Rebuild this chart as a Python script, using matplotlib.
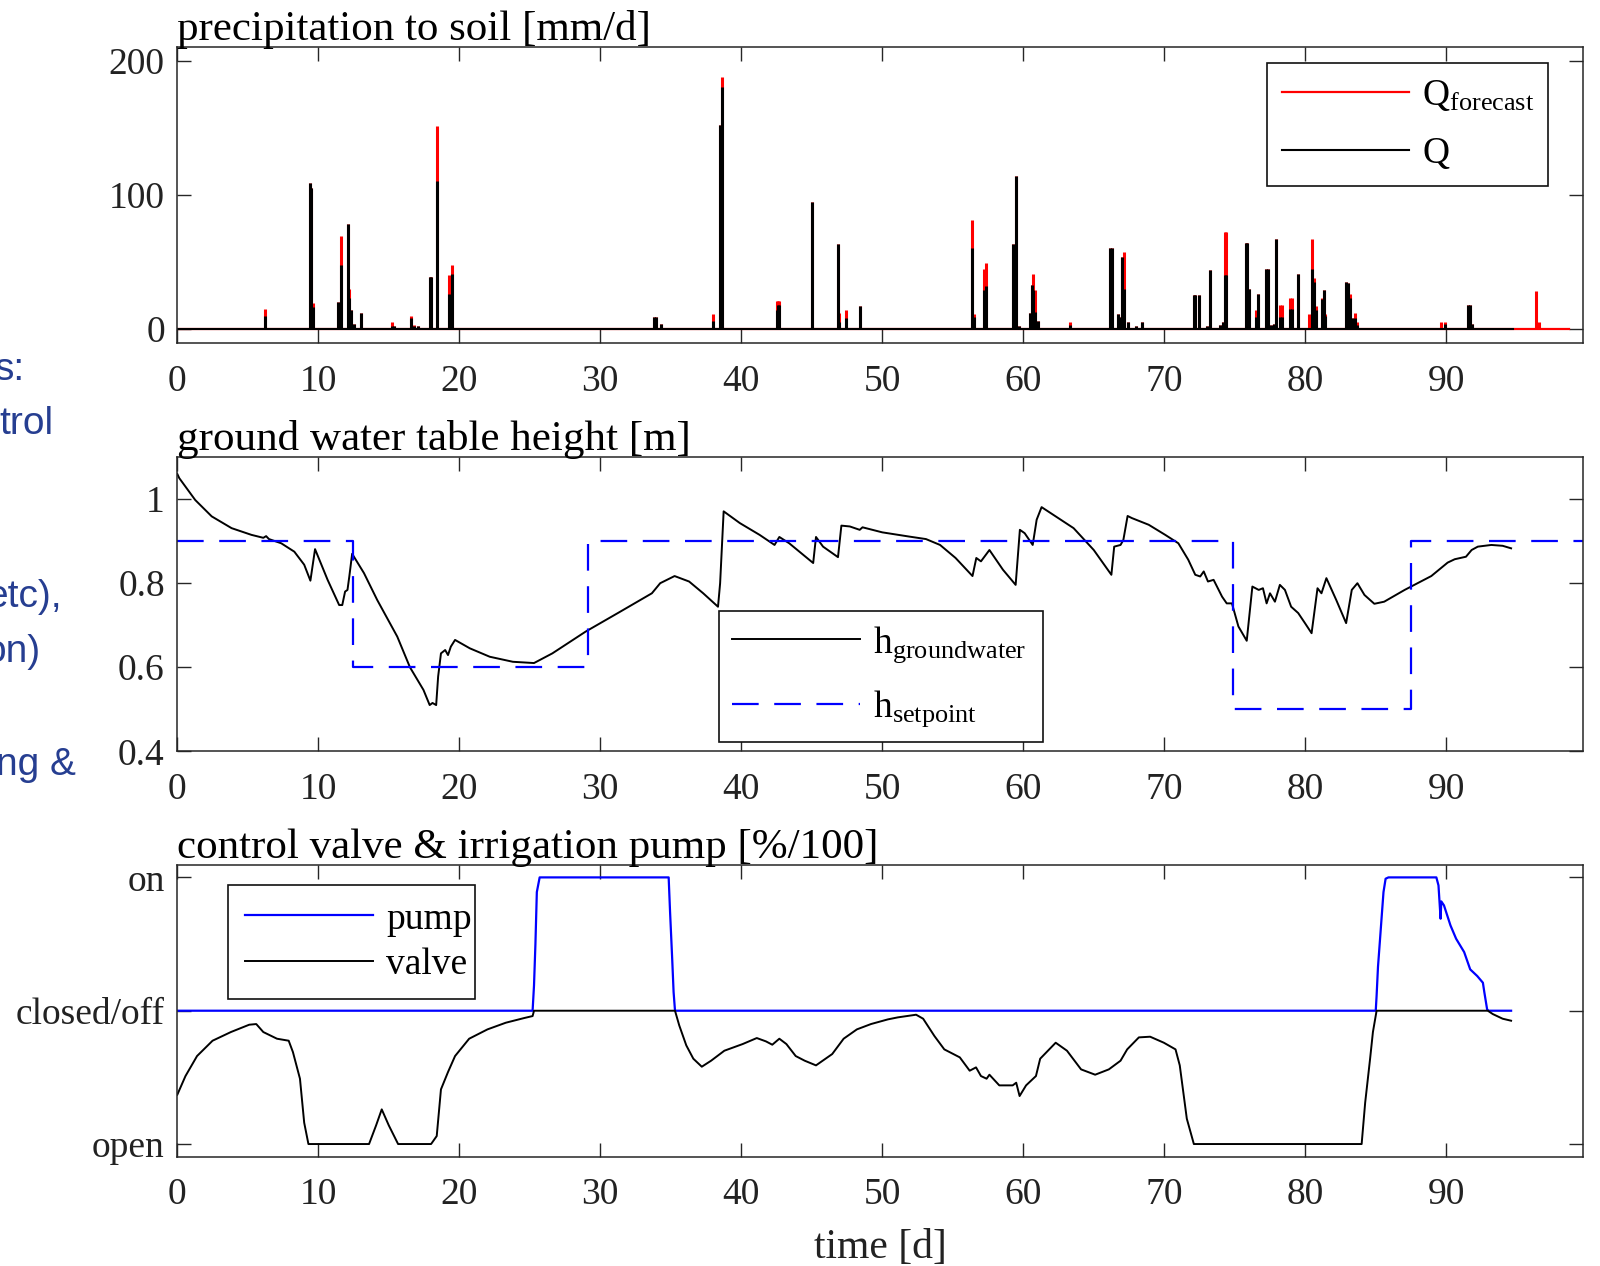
import numpy as np
import matplotlib
matplotlib.use('Agg')
import matplotlib.pyplot as plt

plt.rcParams['font.family'] = ['Liberation Serif', 'DejaVu Serif']
plt.rcParams['mathtext.fontset'] = 'custom'
plt.rcParams['mathtext.rm'] = 'Liberation Serif'
plt.rcParams['mathtext.it'] = 'Liberation Serif:italic'

# precipitation spikes: day, measured Q, forecast Q [mm/d]
rain_day = [6.2, 9.4, 9.5, 9.6, 11.4, 11.6, 12.1, 12.2, 12.35, 12.5, 13.0, 15.2, 15.4,
            16.6, 16.8, 17.1, 17.9, 18.0, 18.45, 19.3, 19.45, 33.8, 33.95, 34.3, 38.0,
            38.5, 38.6, 42.5, 42.6, 42.7, 45.05, 46.85, 46.95, 47.4, 48.4, 56.37, 56.5,
            57.23, 57.34, 59.3, 59.5, 59.7, 60.5, 60.6, 60.7, 60.85, 61.07, 63.3, 66.17,
            66.27, 66.7, 66.85, 67.0, 67.14, 67.43, 68.0, 68.4, 72.1, 72.2, 72.5, 73.0,
            73.25, 73.94, 74.15, 74.3, 74.38, 75.8, 75.9, 76.04, 76.5, 76.66, 77.2, 77.34,
            77.6, 77.8, 77.9, 78.2, 78.35, 78.9, 79.04, 79.5, 80.3, 80.45, 80.6, 80.74,
            81.2, 81.3, 81.4, 82.9, 83.0, 83.17, 83.3, 83.56, 83.7, 89.6, 89.9, 91.55,
            91.7, 91.8, 96.4, 96.6]
rain_q = [10, 109, 105, 16, 20, 48, 78, 23, 14, 4, 12, 2, 2,
          8, 2, 2, 39, 39, 110, 26, 41, 9, 9, 3.5, 6,
          152, 180, 14, 18, 18, 95, 63, 5, 8, 17, 60, 9,
          29, 32, 63, 114, 2, 12, 33, 29, 13, 6, 3, 60,
          60, 11, 9, 54, 30, 5, 2, 5, 25, 25, 25, 2,
          44, 3, 5.5, 40, 40, 64, 64, 30, 9, 26, 45, 45,
          3, 4, 67, 9, 9, 15, 15, 41, 0.5, 45, 35, 14,
          22, 29, 10, 35, 34, 23, 8, 8, 3, 0, 4, 18,
          18, 4, 0, 0]
rain_fc = [15, 109, 105, 19, 20, 69, 78, 30, 14, 4, 12, 5, 2,
           10, 3, 2, 39, 39, 151, 40, 48, 9, 9, 3.5, 11,
           152, 188, 21, 21, 21, 95, 63, 12, 14, 17, 81, 11,
           45, 49, 63, 114, 2, 12, 33, 41, 29, 6, 5, 60,
           60, 11, 9, 54, 57, 5, 2, 5, 25, 25, 25, 2,
           44, 3, 5.5, 72, 72, 64, 64, 30, 14, 26, 45, 45,
           3, 4, 67, 18, 18, 23, 23, 41, 11, 67, 38, 17,
           23, 29, 11, 35, 34, 26, 8, 12, 5.5, 5.5, 5.5, 18,
           18, 4, 28.5, 5]
q_end = 94.7
fc_end = 98.7

# ground water table height [m]
gw_day = [0, 0.14, 1.27, 2.44, 3.85, 5.26, 6.1, 6.3, 6.5, 7.37, 8.3, 9.0, 9.44, 9.77,
          10.66, 11.48, 11.7, 11.9, 12.07, 12.2, 12.4, 13.24, 14.18, 15.6, 16.5, 17.46,
          17.9, 18.1, 18.36, 18.5, 18.7, 19.0, 19.2, 19.4, 19.7, 20.75, 22.16, 23.8,
          25.3, 26.6, 28.97, 31.3, 33.66, 34.25, 35.27, 36.3, 37.3, 38.35, 38.5, 38.75,
          39.9, 41.3, 42.36, 42.7, 43.4, 45.1, 45.3, 45.8, 46.86, 47.1, 47.7, 48.4, 48.6,
          50.0, 51.9, 53.1, 54.1, 55.2, 56.4, 56.67, 57.0, 57.6, 58.56, 59.46, 59.76,
          60.1, 60.67, 60.95, 61.3, 63.57, 65.0, 66.25, 66.45, 66.9, 67.1, 67.4, 67.7,
          68.9, 70.07, 71.0, 71.7, 72.2, 72.55, 72.8, 73.1, 73.5, 74.1, 74.43, 74.8,
          75.26, 75.85, 76.25, 76.7, 77.0, 77.26, 77.5, 77.85, 78.2, 78.56, 79.0, 79.5,
          79.98, 80.45, 80.87, 81.15, 81.5, 82.2, 82.9, 83.3, 83.7, 84.2, 84.9, 85.6,
          87.05, 88.94, 90.1, 90.6, 91.4, 91.8, 92.24, 93.2, 94.0, 94.6]
gw_h = [1.06, 1.05, 0.998, 0.959, 0.931, 0.915, 0.908, 0.912, 0.905, 0.895, 0.875, 0.844,
        0.806, 0.881, 0.808, 0.748, 0.748, 0.780, 0.784, 0.816, 0.87, 0.824, 0.76, 0.673,
        0.60, 0.546, 0.51, 0.515, 0.51, 0.578, 0.633, 0.641, 0.629, 0.649, 0.665, 0.645,
        0.625, 0.613, 0.61, 0.633, 0.685, 0.73, 0.776, 0.80, 0.817, 0.804, 0.776, 0.744,
        0.80, 0.971, 0.943, 0.915, 0.891, 0.91, 0.895, 0.848, 0.91, 0.887, 0.862, 0.937,
        0.935, 0.927, 0.933, 0.921, 0.911, 0.905, 0.891, 0.86, 0.817, 0.86, 0.852, 0.879,
        0.832, 0.796, 0.927, 0.919, 0.891, 0.951, 0.981, 0.931, 0.879, 0.82, 0.887, 0.891,
        0.903, 0.96, 0.955, 0.939, 0.915, 0.895, 0.856, 0.82, 0.816, 0.828, 0.804, 0.808,
        0.768, 0.752, 0.752, 0.697, 0.663, 0.792, 0.784, 0.788, 0.752, 0.776, 0.756,
        0.796, 0.784, 0.744, 0.729, 0.705, 0.681, 0.788, 0.776, 0.812, 0.76, 0.705, 0.784,
        0.80, 0.772, 0.751, 0.756, 0.784, 0.817, 0.849, 0.857, 0.863, 0.879, 0.887, 0.891,
        0.889, 0.883]

# setpoint (step changes)
sp_day = [0, 12.46, 29.15, 74.9, 87.5, 99.7]
sp_h = [0.9, 0.6, 0.9, 0.5, 0.9, 0.9]

# pump (0..1) and valve (0..-1)
pump_day = [0, 25.2, 25.3, 25.4, 25.5, 25.7, 34.85, 34.95, 35.1, 35.2, 35.3, 85.0, 85.06,
            85.16, 85.3, 85.4, 85.55, 85.7, 85.9, 89.3, 89.45, 89.6, 89.65, 89.84, 90.3,
            90.7, 91.27, 91.7, 92.2, 92.6, 92.7, 92.9, 93.0, 94.6]
pump_val = [0, 0, 0.19, 0.5, 0.89, 1, 1, 0.74, 0.39, 0.14, 0, 0, 0.11,
            0.33, 0.53, 0.675, 0.89, 0.99, 1, 1, 0.94, 0.69, 0.82, 0.79, 0.64,
            0.54, 0.44, 0.31, 0.26, 0.21, 0.14, 0.01, 0, 0]
valve_day = [0, 0.58, 1.4, 2.5, 3.8, 5.1, 5.6, 6.1, 7.07, 7.9, 8.2, 8.7, 9.0, 9.3, 13.6,
             14.1, 14.5, 15.0, 15.66, 18.0, 18.4, 18.7, 19.2, 19.7, 20.7, 22.0, 23.3, 24.6,
             25.2, 25.3, 35.3, 35.6, 36.1, 36.6, 37.2, 37.86, 38.8, 40.1, 41.1, 41.75, 42.2,
             42.7, 43.2, 43.86, 44.5, 45.3, 46.45, 47.26, 48.2, 49.2, 50.4, 51.1, 52.4, 52.9,
             53.7, 54.4, 55.5, 56.2, 56.65, 57.0, 57.4, 57.6, 58.3, 59.25, 59.5, 59.74, 60.2,
             60.9, 61.2, 62.3, 63.1, 64.1, 65.1, 66.07, 66.9, 67.37, 68.2, 69.0, 69.97, 70.8,
             71.1, 71.6, 72.1, 84.0, 84.25, 84.6, 84.8, 85.06, 92.95, 93.3, 94.0, 94.6]
valve_val = [-0.63, -0.49, -0.34, -0.225, -0.16, -0.105, -0.1, -0.16, -0.21, -0.225, -0.31,
             -0.51, -0.84, -1, -1, -0.86, -0.74, -0.86, -1, -1, -0.94, -0.59, -0.46, -0.34,
             -0.21, -0.14, -0.09, -0.055, -0.04, 0, 0, -0.11, -0.26, -0.36, -0.42, -0.375,
             -0.3, -0.25, -0.205, -0.23, -0.255, -0.21, -0.25, -0.34, -0.375, -0.41, -0.325,
             -0.21, -0.14, -0.1, -0.065, -0.05, -0.03, -0.06, -0.19, -0.29, -0.35, -0.45,
             -0.425, -0.49, -0.51, -0.48, -0.56, -0.56, -0.54, -0.64, -0.56, -0.49, -0.36,
             -0.24, -0.30, -0.44, -0.48, -0.44, -0.375, -0.29, -0.2, -0.195, -0.24, -0.29,
             -0.41, -0.81, -1, -1, -0.69, -0.36, -0.16, 0, 0, -0.025, -0.06, -0.075]

x_ticks = [0, 10, 20, 30, 40, 50, 60, 70, 80, 90]
slide_text = ["s:", "trol", "etc),", "on)", "ng &"]

FS = 27
TITLE_FS = 31
AX_COL = '#262626'

fig = plt.figure(figsize=(16, 12.66), dpi=100)
W, H = 1600, 1266


def make_axes(top, bottom):
    left, right = 177.3, 1583
    return fig.add_axes([left / W, 1 - bottom / H, (right - left) / W, (bottom - top) / H])


def style(ax):
    ax.set_xlim(0, 99.7)
    ax.set_xticks(x_ticks)
    ax.tick_params(direction='in', length=10, width=1, top=True, right=True,
                   labelsize=FS, colors=AX_COL, labelcolor='#222222')
    ax.tick_params(axis='x', pad=15)
    ax.tick_params(axis='y', pad=9)
    for s in ax.spines.values():
        s.set_linewidth(1.1)
        s.set_color(AX_COL)


def legend(ax, x0, y1, w, spacing, hlen, bpad=0.45):
    leg = ax.legend(loc='upper left', bbox_to_anchor=(x0, y1 - 0.3, w, 0.3), mode='expand',
                    fontsize=FS, frameon=True, fancybox=False, framealpha=1,
                    handlelength=hlen, handletextpad=0.35, borderaxespad=0,
                    borderpad=bpad, labelspacing=spacing)
    fr = leg.get_frame()
    fr.set_edgecolor('#111111')
    fr.set_linewidth(1.2)
    return leg


# ---- precipitation ----
ax1 = make_axes(46.7, 343.3)
ax1.vlines(rain_day, 0, rain_fc, colors='#ff0000', linewidth=2.2)
ax1.plot([0, fc_end], [0, 0], color='#ff0000', lw=1.6, label=r'Q$_{\mathrm{forecast}}$')
ax1.vlines(rain_day, 0, rain_q, colors='black', linewidth=2.2)
ax1.plot([0, q_end], [0, 0], color='black', lw=1.5, label='Q')
ax1.set_ylim(-10.7, 210.4)
ax1.set_yticks([0, 100, 200])
style(ax1)
ax1.set_title('precipitation to soil [mm/d]', loc='left', fontsize=TITLE_FS, pad=5)
legend(ax1, 0.775, 0.945, 0.2, 0.62, 3.4, bpad=0.4)

# ---- ground water ----
ax2 = make_axes(456.7, 751.3)
ax2.plot(gw_day, gw_h, color='black', lw=1.4, label=r'h$_{\mathrm{groundwater}}$')
ax2.plot(sp_day, sp_h, color='#0000ff', lw=1.6, drawstyle='steps-post',
         dashes=(12, 7), label=r'h$_{\mathrm{setpoint}}$')
ax2.set_ylim(0.4, 1.101)
ax2.set_yticks([0.4, 0.6, 0.8, 1.0])
ax2.set_yticklabels(['0.4', '0.6', '0.8', '1'])
style(ax2)
ax2.set_title('ground water table height [m]', loc='left', fontsize=TITLE_FS, pad=5)
legend(ax2, 0.3854, 0.476, 0.2305, 0.62, 3.4, bpad=0.35)

# ---- valve & pump ----
ax3 = make_axes(865, 1156.7)
ax3.plot(pump_day, pump_val, color='#0000ff', lw=1.6, label='pump')
ax3.plot(valve_day, valve_val, color='black', lw=1.4, label='valve')
ax3.set_ylim(-1.095, 1.093)
ax3.set_yticks([-1, 0, 1])
ax3.set_yticklabels(['open', 'closed/off', 'on'])
style(ax3)
ax3.set_title('control valve & irrigation pump [%/100]', loc='left', fontsize=TITLE_FS, pad=5)
ax3.set_xlabel('time [d]', fontsize=30, labelpad=12, color='#222222')
legend(ax3, 0.0364, 0.931, 0.1755, 0.3, 3.4)

# clipped slide text on the left
slide_x = [25.5, 53, 62, 40, 75.5]
slide_y = [380, 434, 607, 662, 775]
for t, x, y in zip(slide_text, slide_x, slide_y):
    fig.text(x / W, 1 - y / H, t, ha='right', va='baseline', fontsize=28,
             color='#263E91', family='Liberation Sans')

fig.savefig('out.png', dpi=100)
